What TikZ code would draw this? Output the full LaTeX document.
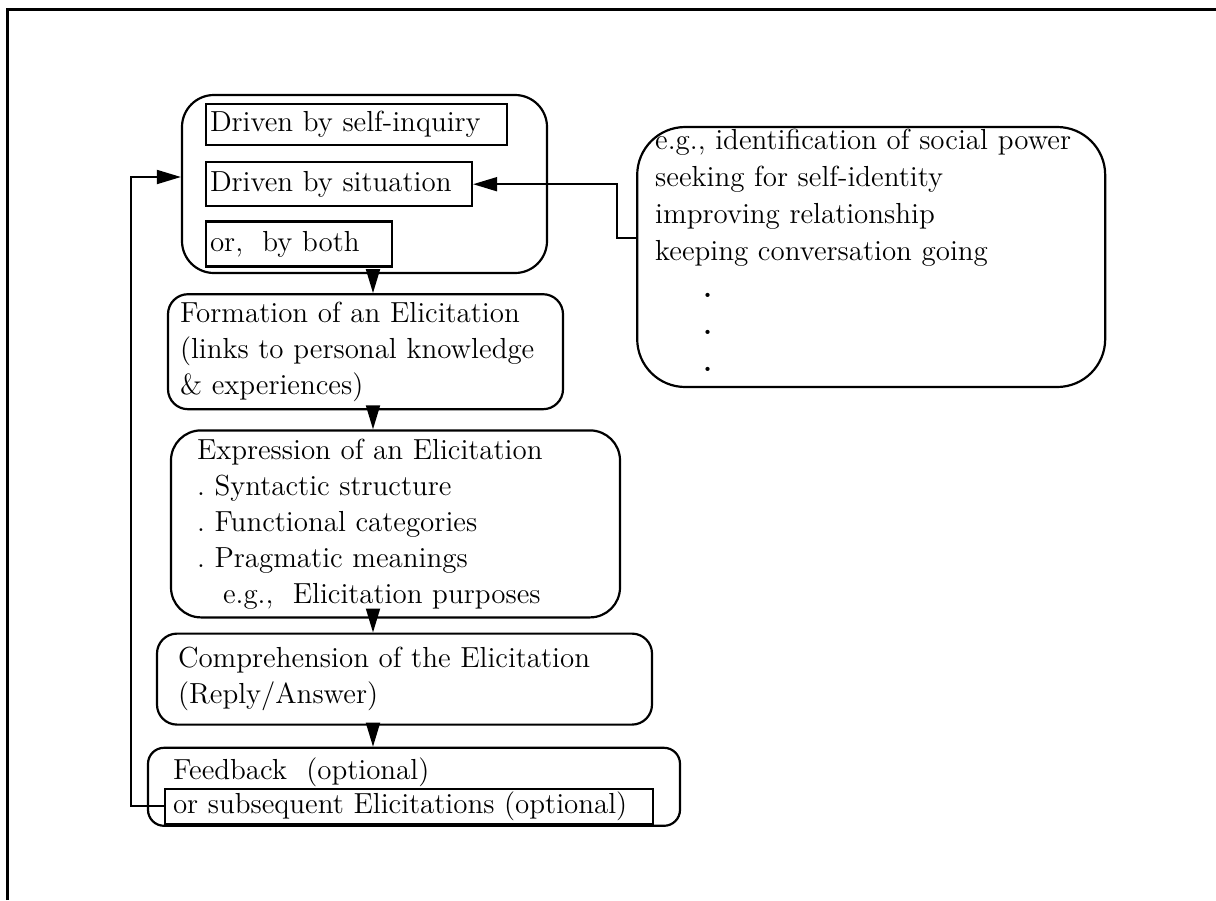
\documentclass[tikz,border=0pt]{standalone}
\usepackage{tikz}
\usetikzlibrary{positioning}
\usetikzlibrary{arrows.meta}

\begin{document}
\begin{tikzpicture}[x=0.5pt, y=-0.5pt, font=\fontsize{14.5}{18}\selectfont,
    stage/.style = {draw, line width=1.1pt, rounded corners=10pt, inner ysep=0pt, align=left},
    tag/.style = {draw, line width=1.1pt, inner xsep=2pt, inner ysep=0pt, align=left},
    flow/.style = {line width=0.9pt, -{Triangle[length=12pt, width=7pt]}}]
    \useasboundingbox (0,0) rectangle (1216,900);
    \draw[line width=1.5pt] (7,900) -- (7,9) -- (1216,9);

    \node[stage, rounded corners=16pt, minimum width=182.5pt, minimum height=89pt] (drive) at (364.5,184) {};
    \node[tag, text width=146.5pt, minimum height=20.5pt] (selfinq) [below right=4.5pt and 12pt of drive.north west] {Driven by self-inquiry};
    \node[tag, text width=129pt, minimum height=22pt] (situation) [below=7.5pt of selfinq.south west, anchor=north west] {Driven by situation};
    \node[tag, text width=89pt, minimum height=22.5pt] (both) [below=6.5pt of situation.south west, anchor=north west] {or,\ \ by both};

    \node[stage, text width=185.5pt, inner xsep=6pt, minimum height=57.5pt] (form) [below=9.5pt of drive, xshift=0.5pt] {Formation of an Elicitation\\(links to personal knowledge\\\& experiences)};
    \node[stage, rounded corners=15pt, text width=198.5pt, inner xsep=13pt, minimum height=93.5pt] (expr) [below=9.5pt of form, xshift=15pt] {Expression of an Elicitation\\.\ Syntactic structure\\.\ Functional categories\\.\ Pragmatic meanings\\\hspace*{13pt}e.g.,\ \ Elicitation purposes};
    \node[stage, text width=226.5pt, inner xsep=10.5pt, minimum height=45.5pt] (compr) [below=7pt of expr, xshift=4.5pt] {Comprehension of the Elicitation\\(Reply/Answer)};
    \node[stage, rounded corners=8pt, text width=241pt, inner xsep=12.5pt, minimum height=39pt] (feed) [below=10.5pt of compr, xshift=4.75pt] {Feedback\ \ (optional)\\\mbox{}};
    \node[tag, text width=236pt, inner xsep=4pt, minimum height=17.5pt] (sub) [below right=20.5pt and 8.5pt of feed.north west] {or subsequent Elicitations (optional)};

    \node[stage, rounded corners=24pt, text width=216pt, inner xsep=9pt, minimum height=130pt, font=\fontsize{14.5}{18.5}\selectfont] (goals) [right=44pt of drive, yshift=-36.5pt] {e.g., identification of social power\\seeking for self-identity\\improving relationship\\keeping conversation going\\\hspace*{24pt}\textbf{.}\\\hspace*{24pt}\textbf{.}\\\hspace*{24pt}\textbf{.}\\[-12pt]\mbox{}};

    \coordinate (axis) at (373,0);
    \coordinate (loop) at (131,177);
    \coordinate (bend) at (617,238);
    \draw[flow] (drive.south -| axis) -- (form.north -| axis);
    \draw[flow] (form.south -| axis) -- (expr.north -| axis);
    \draw[flow] (expr.south -| axis) -- (compr.north -| axis);
    \draw[flow] (compr.south -| axis) -- (feed.north -| axis);
    \draw[flow] (sub.west) -| (loop) -- (loop -| drive.west);
    \draw[flow] (bend -| goals.west) -- (bend) |- (situation.east);
\end{tikzpicture}
\end{document}
